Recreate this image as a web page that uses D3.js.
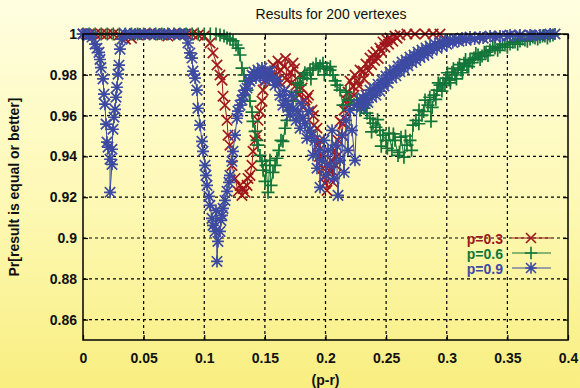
<!DOCTYPE html>
<html>
<head>
<meta charset="utf-8">
<script src="https://cdn.jsdelivr.net/npm/d3@7"></script>
<style>
  html, body { margin: 0; padding: 0; }
  body { width: 580px; height: 388px; overflow: hidden; }
  text { font-family: "Liberation Sans", Arial, sans-serif; }
</style>
</head>
<body>
<div id="chart"></div>
<script>
// values
var seriesNames = ["p=0.3", "p=0.6", "p=0.9"];
var xTicks = [0, 0.05, 0.1, 0.15, 0.2, 0.25, 0.3, 0.35, 0.4];
var xTickLabels = ["0", "0.05", "0.1", "0.15", "0.2", "0.25", "0.3", "0.35", "0.4"];
var yTicks = [0.86, 0.88, 0.9, 0.92, 0.94, 0.96, 0.98, 1];
var yTickLabels = ["0.86", "0.88", "0.9", "0.92", "0.94", "0.96", "0.98", "1"];

var p03 = [
  [0,1],[0.005,1],[0.01,1],[0.015,1],[0.02,1],[0.025,1],[0.03,0.9995],[0.035,0.9975],[0.04,0.998],[0.045,0.9995],
  [0.05,1],[0.055,1],[0.06,1],[0.065,0.9995],[0.07,0.999],[0.075,1],[0.08,1],[0.085,1],[0.09,1],[0.095,0.9995],[0.1,0.999],
  [0.1048,0.9956],[0.1072,0.9907],[0.1105,0.9848],[0.113,0.9799],[0.1147,0.9774],[0.1155,0.9695],[0.1171,0.9651],
  [0.1188,0.9577],[0.1196,0.9504],[0.1212,0.9455],[0.1229,0.9356],[0.1254,0.9292],[0.1279,0.9229],[0.1295,0.9258],
  [0.1311,0.9209],[0.132,0.9243],[0.1336,0.9224],[0.1353,0.9258],[0.1361,0.9292],[0.1377,0.9307],[0.1394,0.9356],
  [0.1402,0.9425],[0.1419,0.9479],[0.1435,0.9504],[0.1443,0.9577],[0.146,0.9622],[0.1476,0.9671],[0.1485,0.9725],
  [0.1501,0.9774],[0.1526,0.9813],[0.1542,0.9784],[0.1567,0.9848],[0.1592,0.9799],[0.1608,0.9867],[0.1633,0.9823],
  [0.1658,0.9843],[0.1682,0.9774],[0.1707,0.9813],[0.1732,0.9857],[0.1757,0.9749],[0.1781,0.97],[0.1806,0.9735],
  [0.1831,0.9676],[0.1847,0.9686],[0.1864,0.9617],[0.1889,0.9627],[0.1905,0.9553],[0.193,0.9538],[0.1938,0.9455],
  [0.1955,0.9479],[0.1963,0.9381],[0.1979,0.9342],[0.1996,0.9268],[0.2004,0.9307],[0.2012,0.9233],[0.2029,0.9332],
  [0.2045,0.9381],[0.2062,0.9273],[0.2078,0.943],[0.2087,0.9356],[0.2103,0.9479],[0.212,0.9572],[0.2136,0.9504],
  [0.2153,0.9627],[0.2169,0.9676],[0.2186,0.9715],[0.2202,0.9769],[0.2227,0.9744],[0.2243,0.9799],[0.226,0.9769],
  [0.2285,0.9823],[0.231,0.9818],[0.2334,0.9853],[0.2367,0.9882],[0.2392,0.9897],[0.2416,0.9911],[0.2449,0.9931],
  [0.2474,0.9961],[0.2507,0.9971],[0.2532,0.998],[0.2573,0.999],[0.2614,0.9995],[0.2672,1],[0.2738,1],[0.2821,1],
  [0.2887,1],[0.2944,1],
  [0.1625,0.976],[0.167,0.988],[0.172,0.976],[0.1745,0.983],[0.179,0.98],[0.1815,0.964],[0.186,0.97],[0.19,0.96],
  [0.195,0.94],[0.1985,0.93],[0.2055,0.933],[0.2095,0.94],[0.2145,0.956],[0.219,0.965],
  [0.2235,0.97],[0.2276,0.9745],[0.2318,0.978],[0.2355,0.982],[0.238,0.985],[0.2405,0.987],[0.2435,0.988],
  [0.246,0.9915],[0.249,0.9935],[0.252,0.995],[0.2555,0.9965],[0.259,0.998]
];

var p06 = [
  [0,1],[0.005,1],[0.01,1],[0.015,1],[0.02,1],[0.025,1],[0.03,1],[0.035,1],[0.04,1],[0.045,1],[0.05,1],[0.055,1],
  [0.06,1],[0.065,1],[0.07,1],[0.075,1],[0.08,1],[0.085,1],[0.09,1],[0.095,1],[0.1,1],[0.105,1],[0.1097,1],
  [0.113,0.9995],[0.1163,0.999],[0.1188,0.998],[0.1212,0.9975],[0.1237,0.9966],[0.1262,0.9946],[0.1279,0.9931],
  [0.1295,0.9897],[0.1311,0.9833],[0.1328,0.9799],[0.1336,0.9769],[0.1353,0.9725],[0.1377,0.9671],[0.1394,0.9617],
  [0.1402,0.9572],[0.1419,0.9523],[0.1435,0.9479],[0.1443,0.9455],[0.146,0.9405],[0.1476,0.9376],[0.1485,0.9332],
  [0.1501,0.9278],[0.1509,0.9356],[0.1526,0.9224],[0.1542,0.9381],[0.1551,0.9258],[0.1567,0.9322],[0.1584,0.9356],
  [0.16,0.9391],[0.1616,0.943],[0.1633,0.9479],[0.1649,0.9474],[0.1666,0.9538],[0.1682,0.9577],[0.1707,0.9627],
  [0.1732,0.9671],[0.1757,0.9715],[0.179,0.9749],[0.1814,0.9784],[0.1847,0.9799],[0.1872,0.9823],[0.1897,0.9833],
  [0.1922,0.9853],[0.1955,0.9843],[0.1979,0.9857],[0.2012,0.9833],[0.2037,0.9823],[0.2062,0.9799],[0.2095,0.9749],
  [0.212,0.9725],[0.2144,0.9651],[0.2169,0.9715],[0.2202,0.9676],[0.2235,0.9656],[0.226,0.9676],[0.2285,0.9627],
  [0.2318,0.9636],[0.2342,0.9612],[0.2367,0.9587],[0.2392,0.9563],[0.2416,0.9543],[0.2449,0.9528],[0.2474,0.9504],
  [0.2499,0.9479],[0.2524,0.9514],[0.2548,0.943],[0.2573,0.9479],[0.2598,0.9405],[0.2623,0.9494],[0.2647,0.9396],
  [0.2672,0.9455],[0.2697,0.9479],[0.2722,0.9553],[0.2746,0.9577],[0.2771,0.9627],[0.2796,0.9602],[0.2821,0.9676],
  [0.2845,0.9651],[0.287,0.9572],[0.2895,0.97],[0.292,0.9725],[0.2944,0.9749],[0.2969,0.9759],[0.2994,0.9784],
  [0.3019,0.9774],[0.3043,0.9813],[0.3068,0.9799],[0.3093,0.9833],[0.3118,0.9823],[0.3142,0.9857],[0.3167,0.9843],
  [0.3192,0.9872],[0.3225,0.9882],[0.3258,0.9897],[0.3291,0.9892],[0.3324,0.9911],[0.3357,0.9921],[0.3398,0.9931],
  [0.3439,0.9936],[0.348,0.9946],[0.3522,0.9951],[0.3563,0.9961],[0.3604,0.9966],[0.3645,0.9971],[0.3687,0.9975],
  [0.3728,0.998],[0.3769,0.9985],[0.381,0.999],[0.3852,0.999],[0.3876,0.9995],
  [0.177,0.976],[0.183,0.981],[0.188,0.978],[0.194,0.983],[0.199,0.98],[0.204,0.984],[0.208,0.977],
  [0.233,0.965],[0.238,0.952],[0.243,0.958],[0.246,0.945],[0.251,0.944],[0.256,0.951],[0.261,0.942],[0.266,0.95],
  [0.271,0.943],[0.277,0.956],[0.281,0.962],[0.286,0.969],[0.288,0.964],[0.291,0.968],[0.293,0.976],[0.296,0.972],
  [0.2985,0.975],[0.3005,0.981],[0.303,0.976],[0.3055,0.983],[0.308,0.978],[0.3105,0.985],[0.313,0.981],
  [0.3155,0.9875],[0.318,0.984],[0.321,0.986],[0.324,0.9905],[0.3275,0.9875],[0.331,0.991],[0.334,0.9895],
  [0.338,0.994],[0.342,0.992],[0.346,0.995],[0.35,0.9935],[0.3545,0.996],[0.3585,0.995],[0.3625,0.9975],
  [0.3665,0.9965],[0.371,0.9985],[0.375,0.9975],[0.379,0.999],[0.383,0.998]
];

var p09 = [
  [0,1],[0.0025,1],[0.005,0.9995],[0.0074,0.9985],[0.0099,0.995],[0.0115,0.993],[0.0132,0.991],[0.014,0.9875],
  [0.0148,0.9835],[0.0165,0.978],[0.0173,0.9705],[0.0181,0.9656],[0.019,0.9558],[0.0198,0.947],[0.0206,0.9445],
  [0.0223,0.9386],[0.0223,0.9224],[0.0239,0.9361],[0.0239,0.9435],[0.0247,0.9533],[0.0256,0.9592],[0.0264,0.9631],
  [0.0272,0.969],[0.028,0.9739],[0.0289,0.9803],[0.0297,0.9847],[0.0305,0.9926],[0.0322,0.9975],[0.0346,1],
  [0.0388,1],[0.043,1],[0.047,1],[0.051,1],[0.055,1],[0.059,1],[0.063,1],[0.067,1],[0.071,1],[0.075,1],[0.079,1],
  [0.0841,1],[0.0866,0.9956],[0.0882,0.9907],[0.0899,0.9882],[0.0907,0.9818],[0.0924,0.9784],[0.094,0.9725],
  [0.0948,0.9636],[0.0965,0.9553],[0.0981,0.9474],[0.099,0.9425],[0.1006,0.9356],[0.1014,0.9307],[0.1023,0.9258],
  [0.1039,0.9204],[0.1047,0.916],[0.1064,0.9096],[0.1072,0.9062],[0.1089,0.9032],[0.1097,0.9135],[0.1105,0.8885],
  [0.1113,0.8983],[0.113,0.9032],[0.1138,0.9086],[0.1146,0.9111],[0.1155,0.9145],[0.1171,0.9184],[0.1188,0.9229],
  [0.1204,0.9273],[0.1212,0.9307],[0.1229,0.9376],[0.1237,0.9425],[0.1254,0.9504],[0.127,0.9587],[0.1278,0.9622],
  [0.1295,0.9651],[0.1311,0.9676],[0.132,0.97],[0.1336,0.9725],[0.1353,0.9735],[0.1369,0.9774],[0.1377,0.9769],
  [0.1394,0.9799],[0.141,0.9813],[0.1427,0.9784],[0.1443,0.9823],[0.146,0.9794],[0.1476,0.9833],[0.1493,0.9804],
  [0.1509,0.9774],[0.1526,0.9813],[0.1542,0.9818],[0.1567,0.9784],[0.1584,0.9749],[0.16,0.9769],[0.1625,0.97],
  [0.1649,0.9651],[0.1674,0.9676],[0.1707,0.9602],[0.1732,0.9636],[0.1757,0.9577],[0.179,0.9538],[0.1814,0.9587],
  [0.1847,0.9489],[0.1872,0.9528],[0.1897,0.9405],[0.1913,0.9479],[0.193,0.9342],[0.1946,0.943],[0.1955,0.9248],
  [0.1971,0.9381],[0.1988,0.9479],[0.2004,0.9307],[0.2021,0.943],[0.2037,0.9356],[0.2054,0.9528],[0.207,0.9292],
  [0.2087,0.9455],[0.2103,0.9209],[0.212,0.9381],[0.2136,0.9504],[0.2153,0.9322],[0.2169,0.9577],[0.2186,0.943],
  [0.2202,0.9627],[0.2219,0.9528],[0.2243,0.9381],[0.226,0.9651],[0.2285,0.9676],[0.2309,0.9686],[0.2334,0.97],
  [0.2367,0.9725],[0.24,0.9735],[0.2433,0.9754],[0.2466,0.9774],[0.2499,0.9794],[0.2532,0.9813],[0.2565,0.9823],
  [0.2598,0.9843],[0.2631,0.9862],[0.2664,0.9872],[0.2697,0.9887],[0.273,0.9897],[0.2763,0.9911],[0.2796,0.9921],
  [0.2829,0.9931],[0.2862,0.9941],[0.2903,0.9951],[0.2944,0.9961],[0.2986,0.9966],[0.3027,0.9971],[0.3076,0.9975],
  [0.3126,0.998],[0.3192,0.9985],[0.3274,0.9985],[0.3357,0.999],[0.3439,0.999],[0.3522,0.9995],[0.3604,0.9995],
  [0.3687,0.9995],[0.3769,0.9995],[0.3852,1],[0.3893,1],
  [0.166,0.972],[0.169,0.964],[0.172,0.97],[0.177,0.962],[0.18,0.966],[0.183,0.956],[0.186,0.962],[0.1885,0.95],
  [0.2297,0.964],[0.2321,0.966],[0.235,0.9665],[0.2383,0.969],[0.2416,0.97],[0.2449,0.972],[0.2482,0.9745],
  [0.2515,0.976],[0.2548,0.9785],[0.2581,0.9795],[0.2614,0.9815],[0.2647,0.983],[0.268,0.9845],[0.2713,0.986],
  [0.2746,0.987],[0.278,0.9885],[0.2812,0.9895],[0.2845,0.9905],[0.288,0.992],[0.292,0.993],[0.296,0.994],
  [0.3,0.995],[0.305,0.9958],[0.31,0.9965],[0.316,0.997],[0.323,0.9975],[0.33,0.998],[0.34,0.9985],[0.35,0.999],
  [0.36,0.999],[0.37,0.9992],[0.38,0.9995]
];

var seriesData = [p03, p06, p09];
var colors = ["#a0161d", "#12763a", "#3d4aa2"];
var symbols = ["cross", "plus", "star"];

var width = 580, height = 388;
var margin = {left: 83, right: 12, top: 34, bottom: 48};

var svg = d3.select("#chart").append("svg")
  .attr("width", width)
  .attr("height", height);

var defs = svg.append("defs");
var grad = defs.append("linearGradient")
  .attr("id", "bg")
  .attr("x1", 0).attr("y1", 0).attr("x2", 0).attr("y2", 1);
grad.append("stop").attr("offset", "0%").attr("stop-color", "#fffee0");
grad.append("stop").attr("offset", "55%").attr("stop-color", "#fdf8b2");
grad.append("stop").attr("offset", "100%").attr("stop-color", "#f8ee80");

svg.append("rect")
  .attr("width", width)
  .attr("height", height)
  .attr("fill", "url(#bg)");

var x = d3.scaleLinear().domain([0, 0.4]).range([margin.left, width - margin.right]);
var y = d3.scaleLinear().domain([0.85, 1]).range([height - margin.bottom, margin.top]);

// dashed grid
svg.append("g").selectAll("line")
  .data(xTicks.filter(function(d) { return d > 0 && d < 0.4; }))
  .join("line")
  .attr("x1", function(d) { return x(d); })
  .attr("x2", function(d) { return x(d); })
  .attr("y1", y(0.85))
  .attr("y2", y(1))
  .attr("stroke", "#000")
  .attr("stroke-width", 1.2)
  .attr("stroke-dasharray", "3,3");

svg.append("g").selectAll("line")
  .data(yTicks.filter(function(d) { return d < 1; }))
  .join("line")
  .attr("x1", x(0))
  .attr("x2", x(0.4))
  .attr("y1", function(d) { return y(d); })
  .attr("y2", function(d) { return y(d); })
  .attr("stroke", "#000")
  .attr("stroke-width", 1.2)
  .attr("stroke-dasharray", "3,3");

// axes, ticks point inward
svg.append("g")
  .attr("transform", "translate(0," + y(0.85) + ")")
  .call(d3.axisBottom(x).tickValues(xTicks)
    .tickFormat(function(d, i) { return xTickLabels[i]; })
    .tickSize(-5).tickPadding(13));

svg.append("g")
  .attr("transform", "translate(" + x(0) + ",0)")
  .call(d3.axisLeft(y).tickValues(yTicks)
    .tickFormat(function(d, i) { return yTickLabels[i]; })
    .tickSize(-5).tickPadding(6));

svg.append("g")
  .attr("transform", "translate(0," + y(1) + ")")
  .call(d3.axisTop(x).tickValues(xTicks).tickFormat("").tickSize(-5));
svg.append("g")
  .attr("transform", "translate(" + x(0.4) + ",0)")
  .call(d3.axisRight(y).tickValues(yTicks).tickFormat("").tickSize(-5));

svg.selectAll(".domain").remove();
svg.selectAll(".tick line").attr("stroke", "#000").attr("stroke-width", 1.2);
svg.selectAll(".tick text")
  .attr("font-size", 14)
  .attr("font-weight", "bold")
  .attr("fill", "#111")
  .attr("font-family", "Liberation Sans, Arial, sans-serif");

// markers
function markerPath(kind, s) {
  if (kind === "cross") {
    return "M" + (-s) + "," + (-s) + "L" + s + "," + s + "M" + (-s) + "," + s + "L" + s + "," + (-s);
  }
  if (kind === "plus") {
    var t = s * 1.25;
    return "M" + (-t) + ",0L" + t + ",0M0," + (-t) + "L0," + t;
  }
  var t2 = s * 1.15;
  return "M" + (-t2) + ",0L" + t2 + ",0M0," + (-t2) + "L0," + t2 +
    "M" + (-s) + "," + (-s) + "L" + s + "," + s + "M" + (-s) + "," + s + "L" + s + "," + (-s);
}

var line = d3.line()
  .x(function(d) { return x(d[0]); })
  .y(function(d) { return y(d[1]); });

var plot = svg.append("g");
seriesData.forEach(function(raw, si) {
  var data = raw.slice().sort(function(a, b) { return a[0] - b[0]; });
  var g = plot.append("g");
  g.append("path")
    .datum(data)
    .attr("d", line)
    .attr("fill", "none")
    .attr("stroke", colors[si])
    .attr("stroke-width", 1);
  g.selectAll("path.pt")
    .data(data)
    .join("path")
    .attr("class", "pt")
    .attr("transform", function(d) { return "translate(" + x(d[0]) + "," + y(d[1]) + ")"; })
    .attr("d", markerPath(symbols[si], 5.2))
    .attr("fill", "none")
    .attr("stroke", colors[si])
    .attr("stroke-width", 1.7);
});

// frame
svg.append("rect")
  .attr("x", x(0))
  .attr("y", y(1))
  .attr("width", x(0.4) - x(0))
  .attr("height", y(0.85) - y(1))
  .attr("fill", "none")
  .attr("stroke", "#000")
  .attr("stroke-width", 1.5);

// legend
var legend = svg.append("g").attr("transform", "translate(503,238)");
seriesNames.forEach(function(name, i) {
  var row = legend.append("g").attr("transform", "translate(0," + (i * 15) + ")");
  row.append("text")
    .attr("x", 0)
    .attr("y", 6)
    .attr("text-anchor", "end")
    .attr("font-size", 14)
    .attr("font-weight", "bold")
    .attr("fill", colors[i])
    .text(name);
  row.append("line")
    .attr("x1", 9).attr("x2", 48)
    .attr("y1", 0).attr("y2", 0)
    .attr("stroke", colors[i])
    .attr("stroke-width", 1.2);
  row.append("path")
    .attr("transform", "translate(28,0)")
    .attr("d", markerPath(symbols[i], 5))
    .attr("fill", "none")
    .attr("stroke", colors[i])
    .attr("stroke-width", 1.6);
});

// titles
svg.append("text")
  .attr("x", 331)
  .attr("y", 19)
  .attr("text-anchor", "middle")
  .attr("font-size", 14)
  .attr("fill", "#111")
  .text("Results for 200 vertexes");

svg.append("text")
  .attr("x", (x(0) + x(0.4)) / 2)
  .attr("y", 385)
  .attr("text-anchor", "middle")
  .attr("font-size", 14)
  .attr("font-weight", "bold")
  .attr("fill", "#111")
  .text("(p-r)");

svg.append("text")
  .attr("transform", "translate(19," + ((y(0.85) + y(1)) / 2) + ") rotate(-90)")
  .attr("text-anchor", "middle")
  .attr("font-size", 14)
  .attr("font-weight", "bold")
  .attr("fill", "#111")
  .text("Pr[result is equal or better]");
</script>
</body>
</html>
